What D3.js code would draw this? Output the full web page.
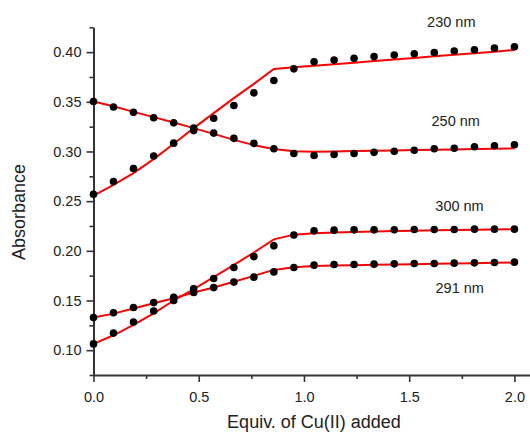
<!DOCTYPE html>
<html>
<head>
<meta charset="utf-8">
<script src="https://cdn.jsdelivr.net/npm/d3@7/dist/d3.min.js"></script>
<style>
  html, body { margin: 0; padding: 0; background: #fff; }
  svg { display: block; }
  text { font-family: "Liberation Sans", Arial, sans-serif; fill: #222; }
</style>
</head>
<body>
<svg id="chart" width="530" height="432"></svg>
<script>
// Equivalents of Cu(II) added (titration points)
const equiv = [0, 0.095, 0.19, 0.286, 0.381, 0.476, 0.571, 0.667, 0.762, 0.857, 0.952,
               1.048, 1.143, 1.238, 1.333, 1.429, 1.524, 1.619, 1.714, 1.81, 1.905, 2.0];

// Measured absorbance at each wavelength
const abs230 = [0.257, 0.2697, 0.2828, 0.2954, 0.3084, 0.3236, 0.3335, 0.3463, 0.359, 0.3715, 0.3832,
                0.3902, 0.392, 0.3939, 0.3955, 0.397, 0.3984, 0.3996, 0.4011, 0.4024, 0.404, 0.4054];
const abs250 = [0.3503, 0.3447, 0.3394, 0.3339, 0.3288, 0.3210, 0.3185, 0.3132, 0.3082, 0.3027, 0.2979,
                0.2959, 0.2969, 0.2979, 0.2991, 0.3003, 0.3013, 0.3027, 0.3033, 0.3047, 0.3057, 0.3067];
const abs300 = [0.1063, 0.1172, 0.1284, 0.1394, 0.1500, 0.1617, 0.1721, 0.1832, 0.1942, 0.205, 0.2159,
                0.2201, 0.2208, 0.2211, 0.2211, 0.2212, 0.2214, 0.2214, 0.2215, 0.2218, 0.2218, 0.2218];
const abs291 = [0.1328, 0.1376, 0.1429, 0.1479, 0.1533, 0.158, 0.163, 0.1685, 0.1735, 0.1788, 0.1832,
                0.1856, 0.1862, 0.1863, 0.1866, 0.1869, 0.1872, 0.1873, 0.1876, 0.1879, 0.1882, 0.1886];

// Fitted absorbance (binding model) at the same points
const fit230 = [0.2556, 0.2664, 0.2782, 0.2923, 0.3077, 0.3235, 0.3386, 0.3537, 0.3681, 0.3830, 0.3847,
                0.3862, 0.3878, 0.3894, 0.3910, 0.3926, 0.3942, 0.3958, 0.3973, 0.3989, 0.4005, 0.4022];
const fit250 = [0.3503, 0.3456, 0.3399, 0.3346, 0.3291, 0.3235, 0.3177, 0.3117, 0.3064, 0.3025, 0.3003,
                0.2998, 0.3000, 0.3004, 0.3007, 0.3010, 0.3014, 0.3017, 0.3021, 0.3024, 0.3028, 0.3032];
const fit300 = [0.1063, 0.1150, 0.1255, 0.1370, 0.1500, 0.1615, 0.1735, 0.1858, 0.1983, 0.2115, 0.2163,
                0.2177, 0.2185, 0.2190, 0.2195, 0.2199, 0.2203, 0.2206, 0.2209, 0.2212, 0.2215, 0.2218];
const fit291 = [0.1328, 0.1368, 0.1419, 0.1473, 0.1523, 0.1580, 0.1630, 0.1688, 0.1748, 0.1808, 0.1835,
                0.1846, 0.1851, 0.1855, 0.1859, 0.1862, 0.1866, 0.1870, 0.1873, 0.1876, 0.1879, 0.1882];

// Wavelength labels and where each one sits (data coordinates)
const seriesLabels = ["230 nm", "250 nm", "300 nm", "291 nm"];
const labelX = [1.700, 1.721, 1.739, 1.740];
const labelY = [0.4256, 0.3256, 0.2404, 0.1572];

// Tick values
const xMajor = [0, 0.5, 1.0, 1.5, 2.0];
const xMinor = [0.25, 0.75, 1.25, 1.75];
const yMajor = [0.10, 0.15, 0.20, 0.25, 0.30, 0.35, 0.40];
const yMinor = [0.075, 0.125, 0.175, 0.225, 0.275, 0.325, 0.375, 0.425];

const svg = d3.select("#chart");
const x = d3.scaleLinear().domain([0, 2.1]).range([93.5, 535.5]);
const y = d3.scaleLinear().domain([0.075, 0.425]).range([375, 27.3]);

const axisColor = "#333";

// Minor ticks (no labels)
svg.append("g").attr("transform", "translate(0,375)")
  .call(d3.axisBottom(x).tickValues(xMinor).tickSize(4).tickSizeOuter(0).tickFormat(""))
  .call(g => g.select(".domain").remove());
svg.append("g").attr("transform", "translate(93.5,0)")
  .call(d3.axisLeft(y).tickValues(yMinor).tickSize(4).tickSizeOuter(0).tickFormat(""))
  .call(g => g.select(".domain").remove());

// Major axes
const xAxis = svg.append("g").attr("transform", "translate(0,375)")
  .call(d3.axisBottom(x).tickValues(xMajor).tickSize(7).tickSizeOuter(0)
        .tickPadding(10).tickFormat(d3.format(".1f")));
const yAxis = svg.append("g").attr("transform", "translate(93.5,0)")
  .call(d3.axisLeft(y).tickValues(yMajor).tickSize(7).tickSizeOuter(0)
        .tickPadding(5).tickFormat(d3.format(".2f")));

svg.selectAll(".tick line").attr("stroke", axisColor).attr("stroke-width", 1.6);
[xAxis, yAxis].forEach(a => {
  a.select(".domain").attr("stroke", axisColor).attr("stroke-width", 2);
  a.selectAll("text").style("font-size", "14.5px").attr("fill", "#222")
    .style("font-family", "'Liberation Sans', Arial, sans-serif");
});

// Axis titles
svg.append("text").attr("x", 314).attr("y", 428).attr("text-anchor", "middle")
  .style("font-size", "18px").text("Equiv. of Cu(II) added");
svg.append("text").attr("transform", "translate(25,212) rotate(-90)").attr("text-anchor", "middle")
  .style("font-size", "18px").text("Absorbance");

// Fitted curves
const fits = [fit230, fit250, fit300, fit291];
const line = d3.line().x((d, i) => x(equiv[i])).y(d => y(d));
svg.append("g").selectAll("path").data(fits).join("path")
  .attr("d", d => line(d)).attr("fill", "none")
  .attr("stroke", "#ff0000").attr("stroke-width", 2);

// Measured points
const measured = [abs230, abs250, abs300, abs291];
measured.forEach(series => {
  svg.append("g").selectAll("circle").data(series).join("circle")
    .attr("cx", (d, i) => x(equiv[i])).attr("cy", d => y(d))
    .attr("r", 3.8).attr("fill", "#000");
});

// Wavelength labels
svg.append("g").selectAll("text").data(seriesLabels).join("text")
  .attr("x", (d, i) => x(labelX[i])).attr("y", (d, i) => y(labelY[i]))
  .attr("text-anchor", "middle").style("font-size", "14.5px").text(d => d);
</script>
</body>
</html>
